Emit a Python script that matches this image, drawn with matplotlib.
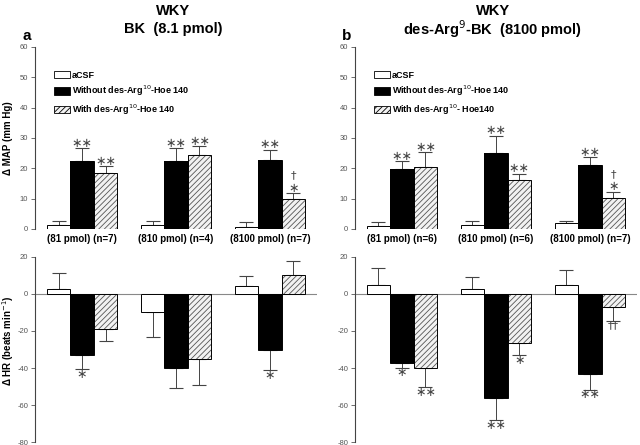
import matplotlib
matplotlib.use("Agg")
import matplotlib.pyplot as plt
from matplotlib.patches import Patch
import numpy as np

plt.rcParams['font.family'] = ['Liberation Sans', 'DejaVu Sans']
plt.rcParams['axes.unicode_minus'] = False

# ---- data ----
series = ["aCSF", "Without des-Arg$^{10}$-Hoe 140", "With des-Arg$^{10}$-Hoe 140"]
series_b = ["aCSF", "Without des-Arg$^{10}$-Hoe 140", "With des-Arg$^{10}$- Hoe140"]

groups_a = ["(81 pmol) (n=7)", "(810 pmol) (n=4)", "(8100 pmol) (n=7)"]
groups_b = ["(81 pmol) (n=6)", "(810 pmol) (n=6)", "(8100 pmol) (n=7)"]

# MAP, rows = series, columns = dose groups
map_a = [[1.2, 1.2, 0.6], [22.4, 22.4, 22.6], [18.4, 24.3, 9.8]]
map_a_sem = [[1.4, 1.4, 1.6], [4.2, 4.2, 3.6], [2.3, 3.0, 2.0]]
map_b = [[1.0, 1.4, 2.0], [19.9, 25.2, 21.0], [20.3, 16.2, 10.2]]
map_b_sem = [[1.2, 1.1, 0.8], [2.4, 5.6, 2.6], [5.0, 1.9, 2.0]]

# HR
hr_a = [[2.9, -10.0, 4.2], [-32.9, -40.0, -30.0], [-18.7, -34.9, 10.2]]
hr_a_sem = [[8.7, 13.1, 5.4], [7.8, 10.7, 11.3], [6.9, 14.4, 7.4]]
hr_b = [[4.7, 2.9, 4.7], [-37.5, -56.3, -43.3], [-39.9, -26.7, -6.9]]
hr_b_sem = [[9.4, 6.1, 8.3], [2.4, 11.9, 8.5], [10.6, 6.5, 7.9]]

# significance marks ("S" = star, "D" = dagger)
map_a_sig = [["", "", ""], ["SS", "SS", "SS"], ["SS", "SS", "D/S"]]
map_b_sig = [["", "", ""], ["SS", "SS", "SS"], ["SS", "SS", "D/S"]]
hr_a_sig = [["", "", ""], ["S", "", "S"], ["", "", ""]]
hr_b_sig = [["", "", ""], ["S", "SS", "SS"], ["SS", "S", "DD"]]

styles = [dict(color="white", hatch=None),
          dict(color="black", hatch=None),
          dict(color="#f2f2f2", hatch="//////")]

plt.rcParams['hatch.linewidth'] = 0.6
plt.rcParams['hatch.color'] = '#555555'


def mark_text(code):
    return code.replace("S", "∗").replace("D", "†")


def draw_bars(ax, vals, sems, sigs):
    centers = np.arange(3) * 4
    for i in range(3):
        xs = centers + (i - 1)
        v = np.array(vals[i])
        s = np.array(sems[i])
        st = styles[i]
        ax.bar(xs, v, width=1.0, color=st["color"], hatch=st["hatch"],
               edgecolor="#555555" if st["hatch"] else "black", linewidth=0, zorder=2)
        ax.bar(xs, v, width=1.0, fill=False, edgecolor="black", linewidth=0.7, zorder=3)
        lower = np.where(v < 0, s, 0)
        upper = np.where(v >= 0, s, 0)
        ax.errorbar(xs, v, yerr=[lower, upper], fmt="none", ecolor="#444444",
                    elinewidth=0.7, capsize=5, capthick=0.8, zorder=1)
        for x, val, e, t in zip(xs, v, s, sigs[i]):
            if not t:
                continue
            kw = dict(ha="center", fontsize=9, color="#444444",
                      family="DejaVu Sans", textcoords="offset points")
            if "/" in t:
                top, bottom = t.split("/")
                ax.annotate(mark_text(bottom), (x, val + e), xytext=(0, -1), va="bottom", **kw)
                ax.annotate(mark_text(top), (x, val + e), xytext=(0, 9.5), va="bottom",
                            **dict(kw, fontsize=8))
            elif val >= 0:
                ax.annotate(mark_text(t), (x, val + e), xytext=(0, -1), va="bottom", **kw)
            else:
                fs = 8 if "D" in t else 9
                ax.annotate(mark_text(t), (x, val - e), xytext=(0, 1), va="top",
                            **dict(kw, fontsize=fs))
    return centers


def style_axis(ax, ylim, yticks):
    ax.set_xlim(-2, 10)
    ax.set_ylim(*ylim)
    ax.set_yticks(yticks)
    for sp in ["top", "right", "bottom"]:
        ax.spines[sp].set_visible(False)
    ax.spines["left"].set_color("#444444")
    ax.spines["left"].set_linewidth(0.8)
    ax.tick_params(axis="y", labelsize=5.5, colors="#555555", length=3, width=0.6, pad=2)
    ax.tick_params(axis="x", length=0)
    ax.set_xticks([])


fig = plt.figure(figsize=(6.4, 4.45), dpi=100)
ax_ta = fig.add_axes([0.0547, 0.4854, 0.4406, 0.409])
ax_ba = fig.add_axes([0.0547, 0.0067, 0.4406, 0.4158])
ax_tb = fig.add_axes([0.5547, 0.4854, 0.4403, 0.409])
ax_bb = fig.add_axes([0.5547, 0.0067, 0.4403, 0.4158])

for ax_t, ax_b, mv, ms, msig, hv, hs, hsig, grp, names in [
        (ax_ta, ax_ba, map_a, map_a_sem, map_a_sig, hr_a, hr_a_sem, hr_a_sig, groups_a, series),
        (ax_tb, ax_bb, map_b, map_b_sem, map_b_sig, hr_b, hr_b_sem, hr_b_sig, groups_b, series_b)]:
    centers = draw_bars(ax_t, mv, ms, msig)
    style_axis(ax_t, (0, 60), [0, 10, 20, 30, 40, 50, 60])
    for c, g in zip(centers, grp):
        ax_t.text(c, -1.5, g, ha="center", va="top", fontsize=7, fontweight="bold")
    handles = [Patch(facecolor=st["color"], edgecolor="black", hatch=st["hatch"], linewidth=0.6)
               for st in styles]
    ax_t.legend(handles, names, loc="upper left", bbox_to_anchor=(0.055, 0.89), frameon=False,
                prop=dict(size=6.5, weight="bold"), handlelength=1.8, handleheight=0.9,
                labelspacing=0.45, handletextpad=0.2, borderaxespad=0)

    draw_bars(ax_b, hv, hs, hsig)
    style_axis(ax_b, (-80, 20), [-80, -60, -40, -20, 0, 20])
    ax_b.axhline(0, color="#888888", linewidth=0.8, zorder=0)

fig.text(0.012, 0.69, "Δ MAP (mm Hg)", rotation=90, ha="center", va="center",
         fontsize=7, fontweight="bold")
fig.text(0.012, 0.235, "Δ HR (beats min$^{-1}$)", rotation=90, ha="center", va="center",
         fontsize=7, fontweight="bold")

fig.text(0.27, 0.975, "WKY", ha="center", va="center", fontsize=10.5, fontweight="bold")
fig.text(0.27, 0.935, "BK  (8.1 pmol)", ha="center", va="center", fontsize=10.5, fontweight="bold")
fig.text(0.77, 0.975, "WKY", ha="center", va="center", fontsize=10.5, fontweight="bold")
fig.text(0.77, 0.935, "des-Arg$^{9}$-BK  (8100 pmol)", ha="center", va="center",
         fontsize=10.5, fontweight="bold")
fig.text(0.042, 0.92, "a", ha="center", va="center", fontsize=11, fontweight="bold")
fig.text(0.542, 0.92, "b", ha="center", va="center", fontsize=11, fontweight="bold")

fig.savefig("out.png", dpi=100)
